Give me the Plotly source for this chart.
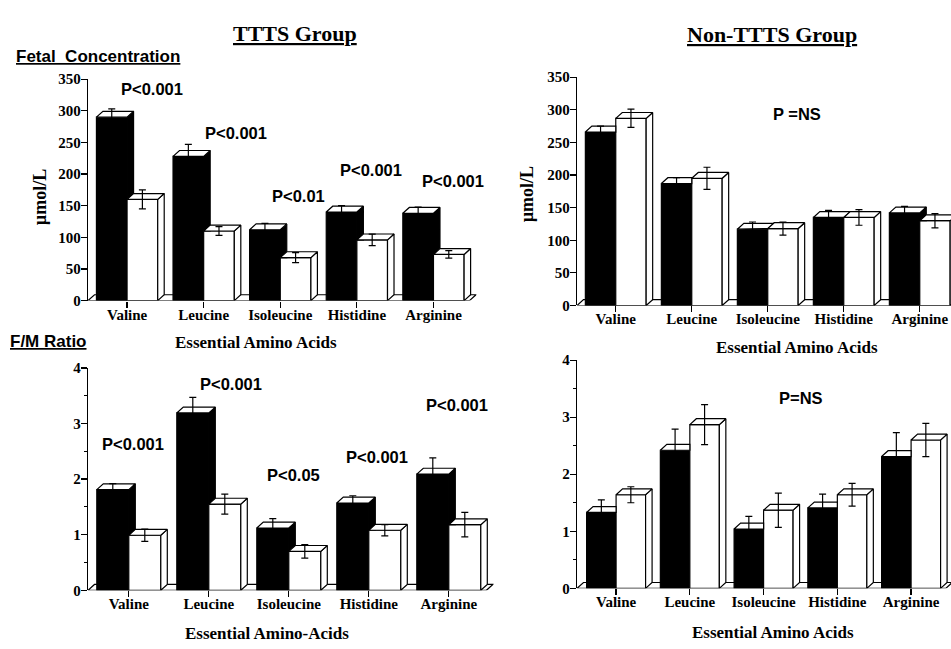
import plotly.graph_objects as go

W, H = 951, 649

# ---------------- data ----------------
categories = ["Valine", "Leucine", "Isoleucine", "Histidine", "Arginine"]
fetal_ticks = [0, 50, 100, 150, 200, 250, 300, 350]
ratio_ticks = [0, 1, 2, 3, 4]

ttts_fetal_solid = [290, 228, 112, 140, 138]
ttts_fetal_solid_err = [13, 19, 10, 10, 10]
ttts_fetal_open = [160, 110, 68, 96, 73]
ttts_fetal_open_err = [15, 7, 8, 9, 6]

non_fetal_solid = [266, 187, 117, 135, 142]
non_fetal_solid_err = [9, 9, 11, 11, 10]
non_fetal_open = [287, 195, 118, 135, 130]
non_fetal_open_err = [14, 17, 10, 12, 11]

ttts_ratio_solid = [1.81, 3.19, 1.12, 1.57, 2.09]
ttts_ratio_solid_err = [0.11, 0.28, 0.17, 0.13, 0.29]
ttts_ratio_open = [0.99, 1.55, 0.70, 1.08, 1.18]
ttts_ratio_open_err = [0.11, 0.18, 0.12, 0.10, 0.22]

non_ratio_solid = [1.33, 2.42, 1.04, 1.41, 2.31]
non_ratio_solid_err = [0.22, 0.37, 0.22, 0.24, 0.42]
non_ratio_open = [1.64, 2.87, 1.37, 1.64, 2.60]
non_ratio_open_err = [0.14, 0.35, 0.30, 0.20, 0.29]

ttts_fetal_p = ["P<0.001", "P<0.001", "P<0.01", "P<0.001", "P<0.001"]
ttts_ratio_p = ["P<0.001", "P<0.001", "P<0.05", "P<0.001", "P<0.001"]
non_fetal_p = "P =NS"
non_ratio_p = "P=NS"

# ---------------- styling / layout ----------------
SERIF = "Liberation Serif"
SANS = "Liberation Sans"
LW = 1.2
BAR_W = 0.4
DEPTH_X_PX = 6.5
DEPTH_Y_PX = 6.0
FLOOR_END = 4.47

panels = [
    dict(xa="x", ya="y", axis_px=88, cat_px=76.6, lo=-0.51, y0_px=300, ytop_px=73,
         ymax=350, ticks=fetal_ticks, minor=None,
         solid=ttts_fetal_solid, solid_err=ttts_fetal_solid_err,
         open=ttts_fetal_open, open_err=ttts_fetal_open_err),
    dict(xa="x2", ya="y2", axis_px=577, cat_px=76.0, lo=-0.51, y0_px=305, ytop_px=71,
         ymax=350, ticks=fetal_ticks, minor=None,
         solid=non_fetal_solid, solid_err=non_fetal_solid_err,
         open=non_fetal_open, open_err=non_fetal_open_err),
    dict(xa="x3", ya="y3", axis_px=88, cat_px=80.0, lo=-0.51, y0_px=597, ytop_px=369,
         ymax=4, ticks=ratio_ticks, minor=0.5,
         solid=ttts_ratio_solid, solid_err=ttts_ratio_solid_err,
         open=ttts_ratio_open, open_err=ttts_ratio_open_err),
    dict(xa="x4", ya="y4", axis_px=577, cat_px=73.75, lo=-0.53, y0_px=595, ytop_px=361,
         ymax=4, ticks=ratio_ticks, minor=0.5,
         solid=non_ratio_solid, solid_err=non_ratio_solid_err,
         open=non_ratio_open, open_err=non_ratio_open_err),
]

fig = go.Figure()
shapes = []
layout_axes = {}


def poly_trace(polys, fill, xa, ya):
    xs, ys = [], []
    for p in polys:
        for (px, py) in p:
            xs.append(px)
            ys.append(py)
        xs.append(p[0][0])
        ys.append(p[0][1])
        xs.append(None)
        ys.append(None)
    return go.Scatter(x=xs, y=ys, mode="lines", fill="toself", fillcolor=fill,
                      line=dict(color="black", width=LW), xaxis=xa, yaxis=ya,
                      hoverinfo="skip", showlegend=False)


for k, pn in enumerate(panels):
    hi = FLOOR_END + 0.09
    right_px = pn["axis_px"] + (hi - pn["lo"]) * pn["cat_px"]
    if right_px > W:
        right_px = W
        hi = pn["lo"] + (W - pn["axis_px"]) / pn["cat_px"]
    dx = DEPTH_X_PX / pn["cat_px"]
    dy = DEPTH_Y_PX * pn["ymax"] / (pn["y0_px"] - pn["ytop_px"])
    xa, ya = pn["xa"], pn["ya"]
    idx = list(range(len(categories)))

    # front faces (library bars)
    fig.add_trace(go.Bar(x=idx, y=pn["solid"], width=BAR_W, offset=-BAR_W,
                         marker=dict(color="black", line=dict(color="black", width=LW)),
                         xaxis=xa, yaxis=ya, showlegend=False, hoverinfo="skip"))
    fig.add_trace(go.Bar(x=idx, y=pn["open"], width=BAR_W, offset=0,
                         marker=dict(color="white", line=dict(color="black", width=LW)),
                         xaxis=xa, yaxis=ya, showlegend=False, hoverinfo="skip"))

    b_side, b_top, w_side, w_top = [], [], [], []
    for c in idx:
        hb, hw = pn["solid"][c], pn["open"][c]
        w = BAR_W
        if hb > hw:
            b_side.append([(c, hw), (c + dx, hw), (c + dx, hb + dy), (c, hb)])
        if hw <= hb:
            b_top.append([(c - w, hb), (c, hb), (c + dx, hb + dy), (c - w + dx, hb + dy)])
        elif hw >= hb + dy:
            b_top.append([(c - w, hb), (c, hb), (c, hb + dy), (c - w + dx, hb + dy)])
        else:
            t = (hw - hb) / dy
            b_top.append([(c - w, hb), (c, hb), (c, hw), (c + t * dx, hw),
                          (c + dx, hb + dy), (c - w + dx, hb + dy)])
        w_side.append([(c + w, 0), (c + w + dx, dy), (c + w + dx, hw + dy), (c + w, hw)])
        w_top.append([(c, hw), (c + w, hw), (c + w + dx, hw + dy), (c + dx, hw + dy)])
    if b_side:
        fig.add_trace(poly_trace(b_side, "black", xa, ya))
    fig.add_trace(poly_trace(b_top, "white", xa, ya))
    fig.add_trace(poly_trace(w_side, "white", xa, ya))
    fig.add_trace(poly_trace(w_top, "white", xa, ya))

    # error bars
    for vals, errs, off in ((pn["solid"], pn["solid_err"], -BAR_W / 2),
                            (pn["open"], pn["open_err"], BAR_W / 2)):
        fig.add_trace(go.Scatter(
            x=[c + off for c in idx], y=vals, mode="markers",
            marker=dict(size=1, color="rgba(0,0,0,0)"),
            error_y=dict(type="data", array=errs, visible=True, color="black",
                         thickness=LW, width=3.5),
            xaxis=xa, yaxis=ya, showlegend=False, hoverinfo="skip"))

    # floor of the 3-D box
    lo = pn["lo"]
    shapes.append(dict(
        type="path", xref=xa, yref=ya, layer="below",
        path=f"M {lo},0 L {FLOOR_END},0 L {FLOOR_END + dx},{dy} L {lo + dx},{dy} Z",
        fillcolor="white", line=dict(color="black", width=LW)))

    sfx = "" if k == 0 else str(k + 1)
    yax = dict(
        domain=[1 - pn["y0_px"] / H, 1 - pn["ytop_px"] / H],
        range=[0, pn["ymax"]], anchor=xa, showline=True, linecolor="black",
        linewidth=LW, ticks="outside", ticklen=6, tickwidth=LW, tickcolor="black",
        tickvals=pn["ticks"], showgrid=False, zeroline=False, ticklabelstandoff=-3,
        tickfont=dict(family=SERIF, size=15, color="black", weight="bold"),
        fixedrange=True)
    if pn["minor"]:
        yax["minor"] = dict(dtick=pn["minor"], tick0=0, ticks="outside", ticklen=3,
                            tickcolor="black", tickwidth=1, showgrid=False)
    xax = dict(
        domain=[pn["axis_px"] / W, right_px / W], range=[lo, hi], anchor=ya,
        showline=False, ticks="outside", ticklen=6, tickwidth=LW, tickcolor="black",
        tickvals=idx, ticktext=categories, showgrid=False, zeroline=False,
        ticklabelstandoff=-6,
        tickfont=dict(family=SERIF, size=15, color="black", weight="bold"),
        fixedrange=True)
    layout_axes["xaxis" + sfx] = xax
    layout_axes["yaxis" + sfx] = yax


def ann(text, px, py, size, family, xanchor="center", angle=0):
    return dict(text=text, x=px / W, y=1 - py / H, xref="paper", yref="paper",
                xanchor=xanchor, yanchor="middle", showarrow=False, textangle=angle,
                font=dict(family=family, size=size, color="black", weight="bold"))


annotations = [
    ann("<u>TTTS Group</u>", 295, 26, 22, SERIF),
    ann("<u>Non-TTTS Group</u>", 772, 27, 22, SERIF),
    ann("<u>Fetal&nbsp;&nbsp;Concentration</u>", 14, 50, 17, SANS, xanchor="left"),
    ann("<u>F/M Ratio</u>", 8, 342, 17, SANS, xanchor="left"),
    ann("µmol/L", 40, 194, 18, SERIF, angle=-90),
    ann("µmol/L", 527, 191, 18, SERIF, angle=-90),
    ann("Essential Amino Acids", 256, 343, 17, SERIF),
    ann("Essential Amino Acids", 797, 348, 17, SERIF),
    ann("Essential Amino-Acids", 267, 641, 17, SERIF),
    ann("Essential Amino Acids", 773, 640, 17, SERIF),
    ann(non_fetal_p, 797, 109, 16.5, SANS),
    ann(non_ratio_p, 801, 400, 16.5, SANS),
]
p1_pos = [(152, 83), (236, 128), (298, 193), (371, 166), (453, 177)]
p3_pos = [(133, 447), (231, 385), (293, 479), (377, 460), (457, 407)]
for t, (px, py) in zip(ttts_fetal_p, p1_pos):
    annotations.append(ann(t, px, py, 16.5, SANS))
for t, (px, py) in zip(ttts_ratio_p, p3_pos):
    annotations.append(ann(t, px, py, 16.5, SANS))

fig.update_layout(
    width=W, height=H, margin=dict(l=0, r=0, t=0, b=0),
    paper_bgcolor="white", plot_bgcolor="rgba(0,0,0,0)",
    barmode="overlay", showlegend=False, shapes=shapes, annotations=annotations,
    **layout_axes)

fig.write_html(
    "out.html",
    config={"displayModeBar": False, "staticPlot": True},
    post_script="document.body.style.margin='0';document.body.style.overflow='hidden';")
